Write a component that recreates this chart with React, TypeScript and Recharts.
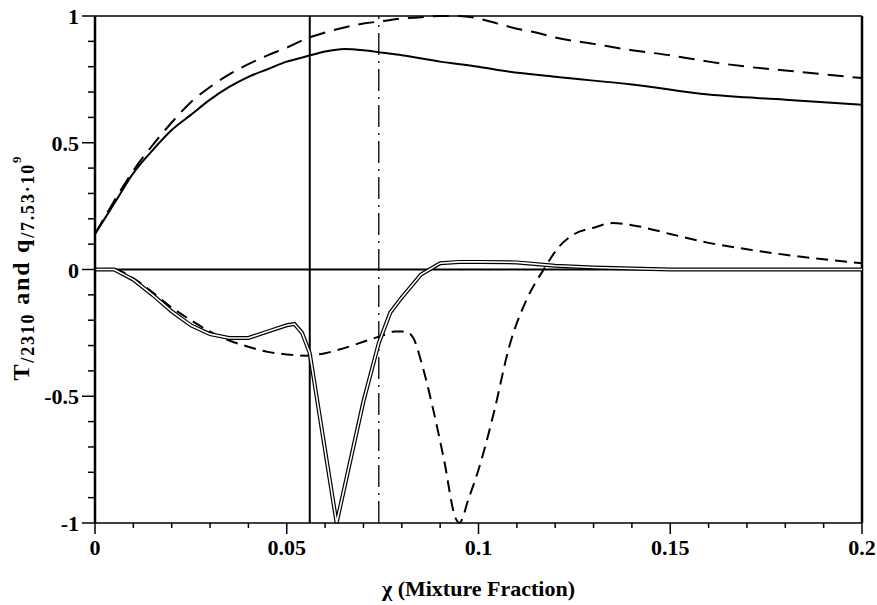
import { LineChart, Line, XAxis, YAxis, ReferenceLine } from 'recharts';

// temperature, solid (T/2310)
const tSolidX = [0, 0.005, 0.01, 0.015, 0.02, 0.025, 0.03, 0.035, 0.04, 0.045, 0.05, 0.055, 0.06, 0.065, 0.07, 0.075, 0.08, 0.09, 0.1, 0.105, 0.12, 0.14, 0.16, 0.18, 0.2];
const tSolidY = [0.14, 0.26, 0.38, 0.47, 0.55, 0.61, 0.67, 0.72, 0.76, 0.79, 0.82, 0.84, 0.86, 0.87, 0.865, 0.855, 0.845, 0.82, 0.8, 0.787, 0.76, 0.73, 0.69, 0.67, 0.65];

// temperature, dashed
const tDashX = [0, 0.005, 0.01, 0.015, 0.02, 0.025, 0.03, 0.035, 0.04, 0.045, 0.05, 0.055, 0.06, 0.065, 0.07, 0.075, 0.08, 0.085, 0.09, 0.095, 0.1, 0.105, 0.11, 0.115, 0.12, 0.13, 0.14, 0.15, 0.16, 0.17, 0.18, 0.19, 0.2];
const tDashY = [0.14, 0.27, 0.39, 0.49, 0.58, 0.66, 0.72, 0.77, 0.81, 0.845, 0.875, 0.91, 0.935, 0.955, 0.97, 0.98, 0.99, 0.995, 1.0, 1.0, 0.99, 0.97, 0.95, 0.935, 0.915, 0.89, 0.865, 0.845, 0.82, 0.8, 0.785, 0.77, 0.755];

// heat release, double line
const qDoubleX = [0, 0.005, 0.01, 0.015, 0.02, 0.025, 0.03, 0.035, 0.04, 0.045, 0.05, 0.052, 0.054, 0.056, 0.063, 0.07, 0.074, 0.077, 0.08, 0.085, 0.09, 0.095, 0.1, 0.11, 0.12, 0.13, 0.14, 0.15, 0.2];
const qDoubleY = [0, 0, -0.04, -0.1, -0.165, -0.22, -0.255, -0.27, -0.27, -0.245, -0.22, -0.215, -0.25, -0.33, -1, -0.52, -0.29, -0.17, -0.11, -0.02, 0.025, 0.03, 0.03, 0.028, 0.015, 0.008, 0.004, 0, 0];

// heat release, dashed
const qDashX = [0, 0.005, 0.01, 0.015, 0.02, 0.025, 0.03, 0.035, 0.04, 0.045, 0.05, 0.055, 0.06, 0.065, 0.07, 0.075, 0.078, 0.081, 0.083, 0.085, 0.088, 0.091, 0.094, 0.095, 0.0975, 0.1, 0.104, 0.108, 0.1125, 0.117, 0.121, 0.125, 0.13, 0.135, 0.14, 0.15, 0.16, 0.17, 0.18, 0.19, 0.2];
const qDashY = [0, 0, -0.035, -0.09, -0.15, -0.2, -0.245, -0.28, -0.305, -0.325, -0.335, -0.34, -0.33, -0.31, -0.285, -0.26, -0.245, -0.245, -0.27, -0.36, -0.54, -0.75, -0.98, -1.0, -0.9, -0.79, -0.565, -0.305, -0.12, 0, 0.09, 0.14, 0.165, 0.183, 0.175, 0.14, 0.105, 0.08, 0.058, 0.04, 0.025];

const xTicks = [0, 0.01, 0.02, 0.03, 0.04, 0.05, 0.06, 0.07, 0.08, 0.09, 0.1, 0.11, 0.12, 0.13, 0.14, 0.15, 0.16, 0.17, 0.18, 0.19, 0.2];
const yTicks = [-1, -0.9, -0.8, -0.7, -0.6, -0.5, -0.4, -0.3, -0.2, -0.1, 0, 0.1, 0.2, 0.3, 0.4, 0.5, 0.6, 0.7, 0.8, 0.9, 1];

const solidMarker = 0.056;
const dashDotMarker = 0.074;

const zip = (xs: number[], ys: number[]) => xs.map((x, i) => ({ x, y: ys[i] }));

const tSolid = zip(tSolidX, tSolidY);
const tDash = zip(tDashX, tDashY);
const qDouble = zip(qDoubleX, qDoubleY);
const qDash = zip(qDashX, qDashY);

const FONT = "'Liberation Serif', 'Times New Roman', serif";

const isMajor = (v: number, step: number) => Math.abs(v / step - Math.round(v / step)) < 1e-6;

function XTick(props: any) {
  const { x, y, payload } = props;
  const v = payload.value as number;
  const major = isMajor(v, 0.05);
  return (
    <g>
      <line x1={x} y1={y} x2={x} y2={y + (major ? 11 : 5)} stroke="#000" strokeWidth={1.5} />
      {major && (
        <text x={x} y={y + 32} textAnchor="middle" fontFamily={FONT} fontWeight="bold" fontSize={22} fill="#000">
          {String(Number(v.toFixed(2)))}
        </text>
      )}
    </g>
  );
}

function YTick(props: any) {
  const { x, y, payload } = props;
  const v = payload.value as number;
  const major = isMajor(v, 0.5);
  return (
    <g>
      <line x1={x - (major ? 13 : 7)} y1={y} x2={x} y2={y} stroke="#000" strokeWidth={1.5} />
      {major && (
        <text x={x - 16} y={y} dy={8} textAnchor="end" fontFamily={FONT} fontWeight="bold" fontSize={22} fill="#000">
          {String(Number(v.toFixed(1)))}
        </text>
      )}
    </g>
  );
}

function YLabel(props: any) {
  const vb = props.viewBox || { x: 0, y: 0, width: 0, height: 0 };
  const cx = vb.x + 29;
  const cy = vb.y + vb.height / 2 - 2;
  return (
    <text
      x={cx}
      y={cy}
      transform={`rotate(-90, ${cx}, ${cy})`}
      textAnchor="middle"
      fontFamily={FONT}
      fontWeight="bold"
      fontSize={24}
      letterSpacing={1.8}
      fill="#000"
    >
      <tspan>T</tspan>
      <tspan fontSize={18} dy={5}>/2310</tspan>
      <tspan dy={-5}> and q</tspan>
      <tspan fontSize={18} dy={5}>/7.53·10</tspan>
      <tspan fontSize={13} dy={-13}>9</tspan>
    </text>
  );
}

function XLabel(props: any) {
  const vb = props.viewBox || { x: 0, y: 0, width: 0, height: 0 };
  return (
    <text
      x={vb.x + vb.width / 2}
      y={vb.y + 73}
      textAnchor="middle"
      fontFamily={FONT}
      fontWeight="bold"
      fontSize={22}
      fill="#000"
    >
      χ (Mixture Fraction)
    </text>
  );
}

export default function App() {
  return (
    <div style={{ width: 877, height: 605, background: '#fff' }}>
      <style>{'body{margin:0;background:#fff}'}</style>
      <LineChart width={877} height={605} margin={{ top: 16, right: 15, left: 0, bottom: 0 }}>
        <XAxis
          type="number"
          dataKey="x"
          domain={[0, 0.2]}
          ticks={xTicks}
          interval={0}
          tick={XTick}
          tickLine={false}
          tickSize={0}
          tickMargin={0}
          height={82}
          axisLine={{ stroke: '#000', strokeWidth: 1.5 }}
          label={{ content: XLabel }}
        />
        <YAxis
          type="number"
          domain={[-1, 1]}
          ticks={yTicks}
          interval={0}
          tick={YTick}
          tickLine={false}
          tickSize={0}
          tickMargin={0}
          width={95}
          axisLine={{ stroke: '#000', strokeWidth: 2.5 }}
          label={{ content: YLabel }}
        />
        <ReferenceLine y={1} stroke="#000" strokeWidth={1.5} />
        <ReferenceLine x={0.2} stroke="#000" strokeWidth={2.5} />
        <ReferenceLine y={0} stroke="#000" strokeWidth={2} />
        <ReferenceLine x={solidMarker} stroke="#000" strokeWidth={2} />
        <ReferenceLine x={dashDotMarker} stroke="#000" strokeWidth={1.3} strokeDasharray="22 6 2 6" />

        <Line data={tSolid} dataKey="y" type="monotone" stroke="#000" strokeWidth={2} dot={false} isAnimationActive={false} />
        <Line data={tDash} dataKey="y" type="monotone" stroke="#000" strokeWidth={2} strokeDasharray="16 9" dot={false} isAnimationActive={false} />
        <Line data={qDash} dataKey="y" type="monotone" stroke="#000" strokeWidth={2} strokeDasharray="12 7" dot={false} isAnimationActive={false} />
        <Line data={qDouble} dataKey="y" type="linear" stroke="#000" strokeWidth={4} dot={false} isAnimationActive={false} />
        <Line data={qDouble} dataKey="y" type="linear" stroke="#fff" strokeWidth={1.6} dot={false} isAnimationActive={false} />
      </LineChart>
    </div>
  );
}
